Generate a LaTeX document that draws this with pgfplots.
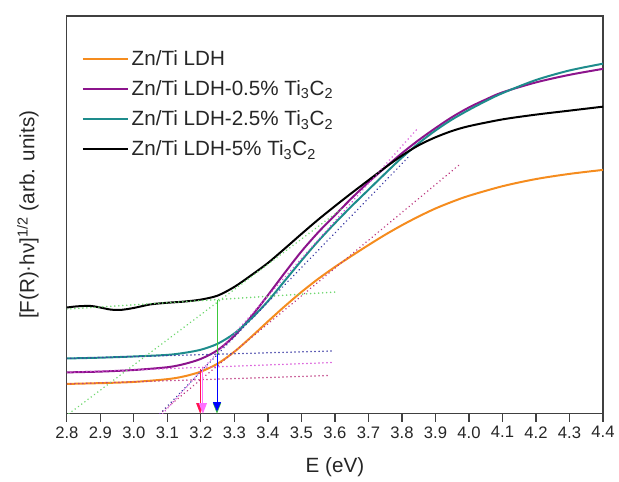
\documentclass[border=0pt]{standalone}
\usepackage{fontspec}
\setmainfont{Liberation Sans}
\usepackage{pgfplots}
\pgfplotsset{compat=1.18}
\usetikzlibrary{arrows.meta,calc}

\definecolor{cOrange}{RGB}{245,140,30}
\definecolor{cPurple}{RGB}{140,20,140}
\definecolor{cTeal}{RGB}{30,140,140}
\definecolor{dMaroon}{RGB}{190,60,130}
\definecolor{dMagenta}{RGB}{215,80,215}
\definecolor{dNavy}{RGB}{60,60,165}
\definecolor{dGreen}{RGB}{110,215,110}
\definecolor{aRed}{RGB}{255,20,80}
\definecolor{aPink}{RGB}{255,110,255}
\definecolor{aGreen}{RGB}{60,200,60}
\definecolor{aBlue}{RGB}{0,0,255}

\begin{document}
\begin{tikzpicture}
\begin{axis}[
  scale only axis, width=403pt, height=299pt,
  xmin=2.8, xmax=4.4, ymin=0, ymax=100,
  xtick={2.8,2.9,3.0,3.1,3.2,3.3,3.4,3.5,3.6,3.7,3.8,3.9,4.0,4.1,4.2,4.3,4.4},
  ytick=\empty, xtick pos=left, tick align=outside,
  major tick length=6pt,
  axis line style={line width=0.9pt, black!75},
  every tick/.style={line width=0.9pt, black!75},
  xticklabel style={/pgf/number format/.cd, fixed, fixed zerofill, precision=1, assume math mode=true},
  tick label style={font=\fontsize{12.5}{14}\selectfont, text=black!85},
  label style={font=\fontsize{15.5}{18}\selectfont, text=black!85},
  xlabel={E (eV)},
  ylabel={[F(R)·hν]\textsuperscript{1/2} (arb. units)},
  xlabel style={at={(axis description cs:0.5,-0.135)}, anchor=center},
  ylabel style={at={(axis description cs:-0.0726,0.5)}, anchor=center},
  legend style={draw=none, fill=none, at={(axis description cs:0.02,0.928)}, anchor=north west,
    font=\fontsize{15.5}{18}\selectfont, row sep=6pt, text=black!85},
  legend cell align=left,
  legend image code/.code={\draw[#1] (0pt,0pt) -- (34pt,0pt);},
  every axis plot/.append style={line width=1.5pt},
  dotl/.style={line width=1.3pt, dash pattern=on 0.01pt off 3pt, line cap=round, forget plot},
]
% Zn/Ti LDH
\addplot[cOrange, smooth] coordinates {
(2.8,7.5)(2.9,7.7)(3.0,8.0)(3.1,8.7)(3.15,9.4)(3.2,10.6)(3.25,12.6)(3.3,15.6)
(3.35,19.3)(3.4,23.2)(3.45,27.0)(3.5,30.6)(3.55,33.9)(3.6,36.9)(3.65,39.7)
(3.7,42.4)(3.75,45.0)(3.8,47.4)(3.85,49.6)(3.9,51.6)(3.95,53.3)(4.0,54.8)
(4.1,57.2)(4.2,59.0)(4.3,60.3)(4.4,61.3)};
\addlegendentry{Zn/Ti LDH}
% 0.5%
\addplot[cPurple, smooth] coordinates {
(2.8,10.4)(2.9,10.6)(3.0,11.0)(3.1,11.7)(3.15,12.5)(3.2,13.8)(3.25,16.0)(3.3,19.6)
(3.35,24.4)(3.4,29.8)(3.45,35.4)(3.5,40.8)(3.55,45.6)(3.6,49.9)(3.65,54.2)
(3.7,58.2)(3.75,61.9)(3.8,65.5)(3.85,68.8)(3.9,71.8)(3.95,74.6)(4.0,77.0)
(4.05,79.0)(4.1,80.8)(4.2,83.3)(4.3,85.2)(4.4,86.7)};
\addlegendentry{Zn/Ti LDH-0.5\% Ti\textsubscript{3}C\textsubscript{2}}
% 2.5%
\addplot[cTeal, smooth] coordinates {
(2.8,13.9)(2.9,14.1)(3.0,14.4)(3.1,14.8)(3.15,15.3)(3.2,16.1)(3.25,17.6)(3.3,20.2)
(3.35,23.9)(3.4,28.3)(3.45,33.4)(3.5,38.5)(3.55,43.4)(3.6,47.9)(3.65,52.2)
(3.7,56.3)(3.75,60.4)(3.8,64.4)(3.85,68.0)(3.9,71.2)(3.95,74.0)(4.0,76.4)
(4.05,78.6)(4.1,80.6)(4.2,83.9)(4.3,86.3)(4.4,88.0)};
\addlegendentry{Zn/Ti LDH-2.5\% Ti\textsubscript{3}C\textsubscript{2}}
% 5%
\addplot[black, smooth] coordinates {
(2.8,26.7)(2.83,27.0)(2.87,27.1)(2.9,26.7)(2.93,26.2)(2.96,26.1)(3.0,26.6)
(3.05,27.5)(3.1,27.9)(3.15,28.2)(3.2,28.7)(3.25,29.7)(3.3,31.9)
(3.35,34.8)(3.4,37.9)(3.45,41.5)(3.5,45.2)(3.55,48.8)(3.6,52.2)(3.65,55.5)
(3.7,58.7)(3.75,61.9)(3.8,64.9)(3.85,67.5)(3.9,69.5)(3.95,71.1)(4.0,72.3)
(4.1,74.0)(4.2,75.2)(4.3,76.2)(4.4,77.2)};
\addlegendentry{Zn/Ti LDH-5\% Ti\textsubscript{3}C\textsubscript{2}}

% tangent and baseline lines
\addplot[dotl, dMaroon] coordinates {(3.077,0)(3.97,62.5)};
\addplot[dotl, dMagenta] coordinates {(3.086,0)(3.85,72)};
\addplot[dotl, dNavy] coordinates {(3.078,0)(3.82,64.6)};
\addplot[dotl, dMaroon] coordinates {(2.8,7.5)(3.58,9.6)};
\addplot[dotl, dMagenta] coordinates {(2.8,10.4)(3.6,12.9)};
\addplot[dotl, dNavy] coordinates {(2.8,13.9)(3.6,15.8)};
\addplot[dotl, dGreen] coordinates {(2.8,26.3)(3.6,30.6)};
\addplot[dotl, dGreen] coordinates {(2.806,0)(3.62,51.5)};

% band gap arrows
\addplot[aRed, line width=0.7pt, forget plot, -{Triangle[width=6pt,length=8pt]}] coordinates {(3.198,11.2)(3.198,0)};
\addplot[aPink, line width=0.7pt, forget plot, -{Triangle[width=6pt,length=8pt]}] coordinates {(3.206,11.0)(3.206,0)};
\addplot[aGreen, line width=0.7pt, forget plot, -{Triangle[width=6pt,length=8pt]}] coordinates {(3.248,28.6)(3.248,0)};
\addplot[aBlue, line width=0.7pt, forget plot, -{Triangle[width=6pt,length=7pt]}] coordinates {(3.248,15.0)(3.248,0.6)};
\end{axis}
\path ($(current axis.south west)+(-50.25pt,-48.75pt)$) rectangle ($(current axis.north east)+(10.9pt,12pt)$);
\end{tikzpicture}
\end{document}
